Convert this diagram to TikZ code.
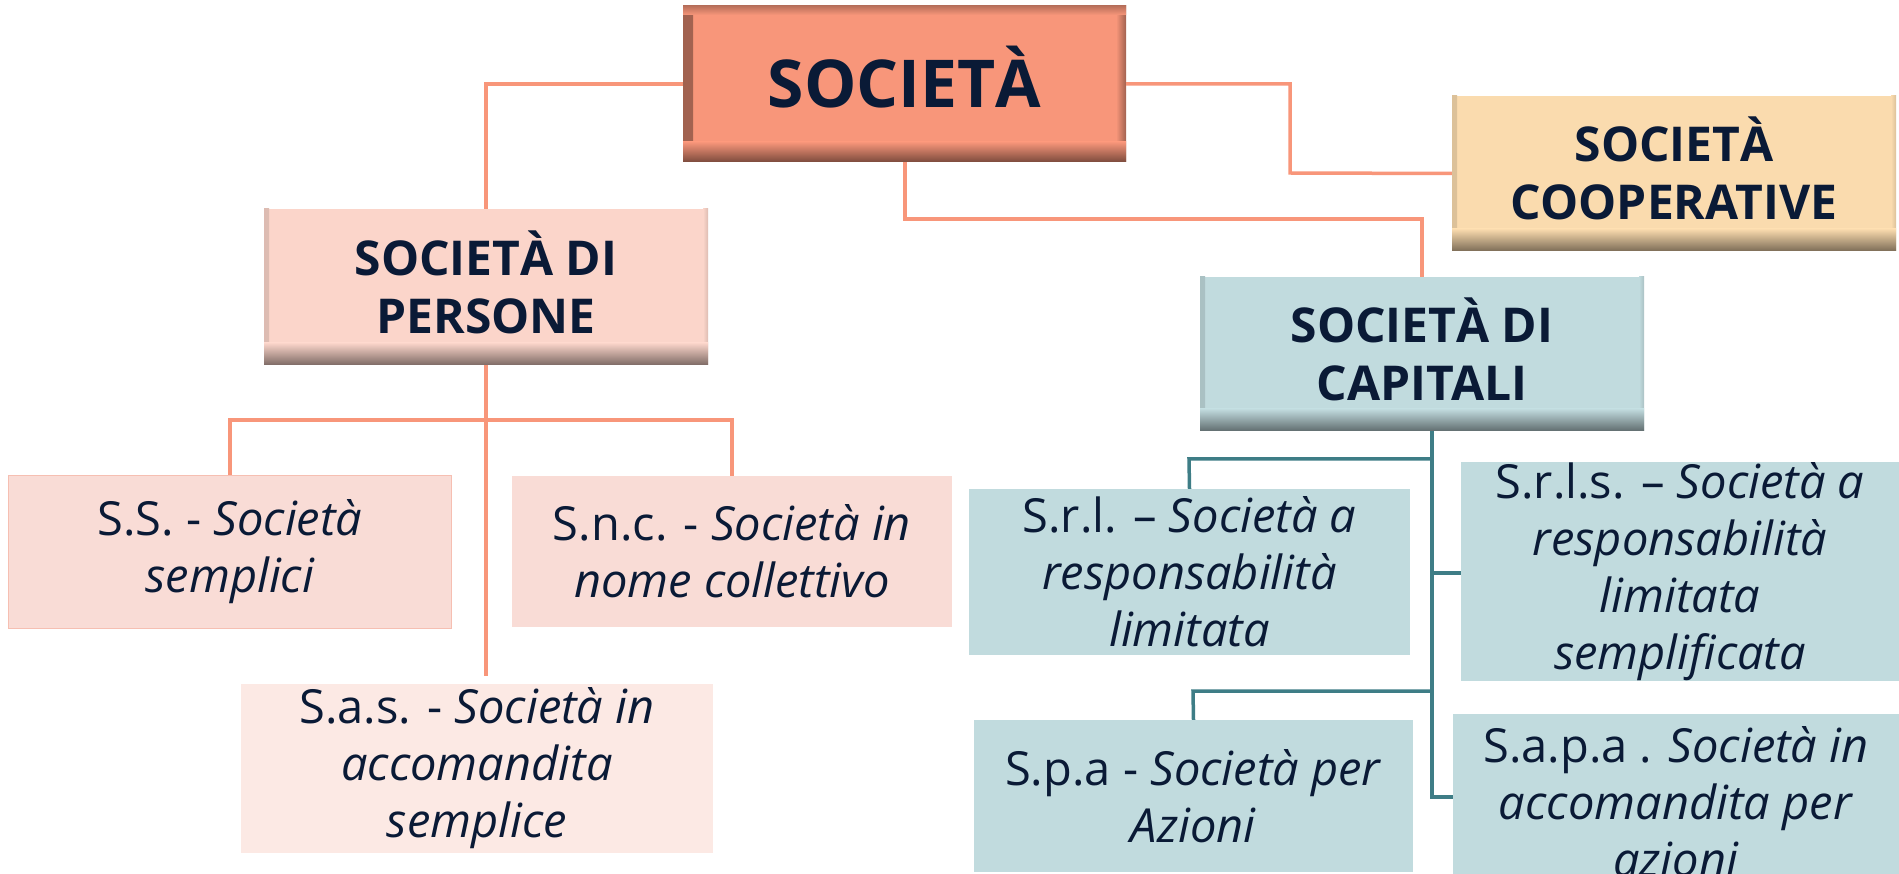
\documentclass[tikz,border=0pt]{standalone}
\usepackage{fontspec}
\setmainfont{Open Sans}
\usetikzlibrary{calc}
\definecolor{txt}{HTML}{0A1A36}
\definecolor{orangeln}{HTML}{F8967A}
\definecolor{tealln}{HTML}{3E7D86}
\definecolor{socfill}{HTML}{F8967A}
\definecolor{coopfill}{HTML}{FADBAE}
\definecolor{persfill}{HTML}{FBD5CA}
\definecolor{capfill}{HTML}{C1DBDE}
\definecolor{pinkfill}{HTML}{F9DCD6}
\definecolor{pinkline}{HTML}{F6BFB2}
\definecolor{lightpink}{HTML}{FCE9E4}
\definecolor{tealfill}{HTML}{C1DBDE}
\newcommand{\Agr}{\smash{À}}
\tikzset{
  box/.style={rectangle, inner sep=0pt, align=center, text=txt},
  headbox/.style={box, fill=#1, font=\bfseries\fontsize{48}{58}\selectfont,
    path picture={
      \shade[left color=#1!88!black, right color=#1] (path picture bounding box.south west) rectangle ([xshift=5pt]path picture bounding box.north west);
      \shade[right color=#1!88!black, left color=#1] (path picture bounding box.south east) rectangle ([xshift=-5pt]path picture bounding box.north east);
      \shade[top color=#1, bottom color=#1!50!black] (path picture bounding box.south west) rectangle ([yshift=22pt]path picture bounding box.south east);
    }},
  topbox/.style={box, fill=#1, font=\bfseries\fontsize{66}{80}\selectfont,
    path picture={
      \shade[left color=#1!65!black, right color=#1] (path picture bounding box.south west) rectangle ([xshift=10pt]path picture bounding box.north west);
      \shade[right color=#1!65!black, left color=#1] (path picture bounding box.south east) rectangle ([xshift=-10pt]path picture bounding box.north east);
      \shade[bottom color=#1, top color=#1!75!black] (path picture bounding box.north west) rectangle ([yshift=-9pt]path picture bounding box.north east);
      \shade[top color=#1, bottom color=#1!50!black] (path picture bounding box.south west) rectangle ([yshift=20pt]path picture bounding box.south east);
    }},
  leafbox/.style={box, fill=#1, font=\fontsize{47}{57}\selectfont},
  oline/.style={draw=orangeln, line width=3.5pt},
  tline/.style={draw=tealln, line width=3.5pt},
}
\begin{document}
\begin{tikzpicture}[x=1pt, y=-1pt]
\useasboundingbox (0,0) rectangle (1899,874);
\fill[white] (0,0) rectangle (1899,874);

\coordinate (persL) at (486,84);
\coordinate (coopA) at (1290,84);
\coordinate (coopB) at (1290,173);
\coordinate (capA) at (905,219);
\coordinate (capB) at (1422,219);
\coordinate (ssA) at (230,420);
\coordinate (sncA) at (732,420);
\coordinate (tTop) at (1432,431);
\coordinate (tSrl) at (1432,459);
\coordinate (tSrlB) at (1189,459);
\coordinate (tSrls) at (1432,573);
\coordinate (tSpa) at (1432,691);
\coordinate (tSpaB) at (1193,691);
\coordinate (tBot) at (1432,797);

% boxes
\node[topbox=socfill, minimum width=443pt, minimum height=156pt] (soc) at (904.5,84) {SOCIET\Agr};
\node[headbox=coopfill, minimum width=444pt, minimum height=155pt] (coop) at (1674,173.5) {SOCIET\Agr\\COOPERATIVE};
\node[headbox=persfill, minimum width=444pt, minimum height=156pt] (pers) at (486,287) {SOCIET\Agr{} DI\\PERSONE};
\node[headbox=capfill, minimum width=444pt, minimum height=154pt] (cap) at (1422,354) {SOCIET\Agr{} DI\\CAPITALI};

\node[leafbox=pinkfill, draw=pinkline, line width=1.5pt, minimum width=443pt, minimum height=153pt] (ss) at (230,552) {S.S. - \textit{Società}\\\textit{semplici}};
\node[leafbox=pinkfill, minimum width=440pt, minimum height=151pt] (snc) at (732,551.5) {S.n.c. - \textit{Società in}\\\textit{nome collettivo}};
\node[leafbox=lightpink, minimum width=472pt, minimum height=169pt] (sas) at (477,768.5) {S.a.s. - \textit{Società in}\\\textit{accomandita}\\\textit{semplice}};
\node[leafbox=tealfill, minimum width=441pt, minimum height=166pt] (srl) at (1189.5,572) {S.r.l. – \textit{Società a}\\\textit{responsabilità}\\\textit{limitata}};
\node[leafbox=tealfill, minimum width=438pt, minimum height=213pt] (srls) at (1680,571.5) {S.r.l.s. – \textit{Società a}\\\textit{responsabilità}\\\textit{limitata}\\\textit{semplificata}};
\node[leafbox=tealfill, minimum width=439pt, minimum height=152pt] (spa) at (1193.5,796) {S.p.a - \textit{Società per}\\\textit{Azioni}};
\node[leafbox=tealfill, minimum width=446pt, minimum height=176pt, anchor=north] (sapa) at (1676,714) {S.a.p.a . \textit{Società in}\\\textit{accomandita per}\\\textit{azioni}};

% orange connectors
\draw[oline] (soc.west) -- (persL) -- (pers.north);
\draw[oline] (soc.east) -- (coopA) -- (coopB) -- (coop.west);
\draw[oline] (soc.south -| capA) -- (capA) -- (capB) -- (cap.north);
\draw[oline, shorten >=8pt] (pers.south) -- (pers.south |- sas.north);
\draw[oline] (ss.north) -- (ssA) -- (sncA) -- (snc.north);

% teal connectors
\draw[tline] (tTop) -- (tBot) -- (sapa.west |- tBot);
\draw[tline] (tSrl) -- (tSrlB) -- (srl.north);
\draw[tline] (tSrls) -- (srls.west |- tSrls);
\draw[tline] (tSpa) -- (tSpaB) -- (spa.north);
\end{tikzpicture}
\end{document}
